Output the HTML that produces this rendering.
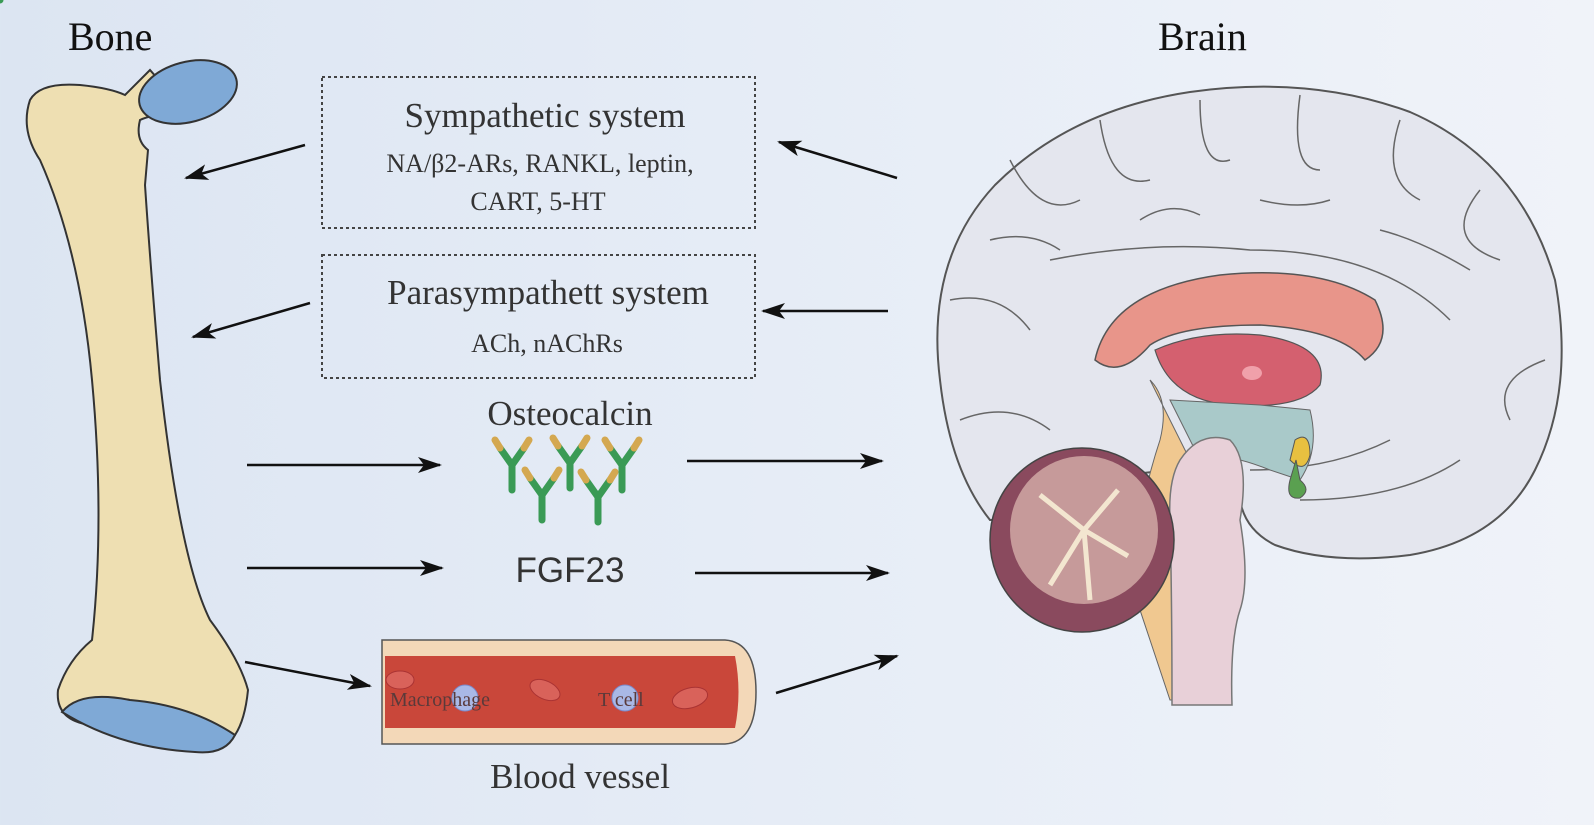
<!DOCTYPE html>
<html><head><meta charset="utf-8"><style>
html,body{margin:0;padding:0;}
body{width:1594px;height:820px;overflow:hidden;background:linear-gradient(90deg,#dce5f2,#e8eef7 60%,#f0f3f9);}
svg text{font-family:"Liberation Serif",serif;fill:#333;}
</style></head><body>
<svg width="1594" height="820" viewBox="0 0 1594 820" xmlns="http://www.w3.org/2000/svg">
<defs>
<marker id="ah" markerWidth="24" markerHeight="16" refX="22" refY="8" orient="auto" markerUnits="userSpaceOnUse" viewBox="0 0 24 16">
<path d="M0,0 L24,8 L0,16 L6,8 Z" fill="#111"/></marker>
</defs>
<text x="68" y="50" font-size="40" style="fill:#111">Bone</text>
<text x="1158" y="50" font-size="40" style="fill:#111">Brain</text>

<!-- Bone -->
<path d="M30,100 Q40,82 80,85 Q110,88 125,95 Q140,80 150,70 L185,110 Q150,115 140,120 Q135,140 148,150 L145,185 Q150,260 160,380 Q180,560 210,620 Q240,660 248,690 Q245,720 235,735 L200,740 Q150,740 90,725 Q55,720 58,690 Q68,660 92,640 Q105,520 92,380 Q80,250 40,160 Q20,130 30,100 Z" fill="#eedfb2" stroke="#333" stroke-width="2"/>
<ellipse cx="188" cy="92" rx="50" ry="30" transform="rotate(-15 188 92)" fill="#7fa9d6" stroke="#333" stroke-width="2"/>
<path d="M62,712 Q80,690 130,700 Q190,705 235,735 Q225,755 195,752 Q120,748 62,712 Z" fill="#7fa9d6" stroke="#333" stroke-width="2"/>

<!-- boxes -->
<rect x="322" y="77" width="433" height="151" fill="none" stroke="#444" stroke-width="2" stroke-dasharray="3,3"/>
<text x="545" y="127" font-size="35" text-anchor="middle">Sympathetic system</text>
<text x="540" y="172" font-size="26" text-anchor="middle">NA/β2-ARs, RANKL, leptin,</text>
<text x="538" y="210" font-size="26" text-anchor="middle">CART, 5-HT</text>
<rect x="322" y="255" width="433" height="123" fill="none" stroke="#444" stroke-width="2" stroke-dasharray="3,3"/>
<text x="548" y="304" font-size="35" text-anchor="middle">Parasympathett system</text>
<text x="547" y="352" font-size="26" text-anchor="middle">ACh, nAChRs</text>
<text x="570" y="425" font-size="35" text-anchor="middle">Osteocalcin</text>
<text x="570" y="582" font-size="35" text-anchor="middle" style="font-family:'Liberation Sans',sans-serif">FGF23</text>
<text x="580" y="788" font-size="35" text-anchor="middle">Blood vessel</text>

<!-- antibodies -->
<g stroke-linecap="round">
<g id="ab"><path d="M0,0 L0,-25 M0,-25 L-12,-42 M0,-25 L12,-42" stroke="#3a9a55" stroke-width="7" fill="none"/><path d="M-12,-42 L-17,-50 M12,-42 L17,-50" stroke="#d4a850" stroke-width="7"/></g>
<use href="#ab" x="512" y="490"/><use href="#ab" x="570" y="488"/><use href="#ab" x="622" y="490"/>
<use href="#ab" x="542" y="520"/><use href="#ab" x="598" y="522"/>
</g>

<!-- blood vessel -->
<path d="M382,640 L725,640 Q756,642 756,692 Q756,742 725,744 L382,744 Z" fill="#f3d8b8" stroke="#555" stroke-width="1.5"/>
<path d="M385,656 L735,656 Q742,692 735,728 L385,728 Z" fill="#c9473a"/>
<ellipse cx="400" cy="680" rx="14" ry="9" fill="#d9625a" stroke="#a33" />
<ellipse cx="545" cy="690" rx="16" ry="9" fill="#d9625a" stroke="#a33" transform="rotate(25 545 690)"/>
<ellipse cx="690" cy="698" rx="18" ry="10" fill="#d9625a" stroke="#a33" transform="rotate(-15 690 698)"/>
<circle cx="465" cy="698" r="13" fill="#a9b8e6" stroke="#7a8acc"/>
<circle cx="625" cy="698" r="13" fill="#a9b8e6" stroke="#7a8acc"/>
<text x="390" y="706" font-size="20" style="fill:#5a3a3a">Macrophage</text>
<text x="598" y="706" font-size="20" style="fill:#5a3a3a">T cell</text>

<!-- brain -->
<path d="M940,380 Q925,260 995,185 Q1070,110 1190,92 Q1310,75 1410,112 Q1520,160 1555,280 Q1575,390 1535,470 Q1500,540 1410,555 Q1330,565 1275,545 Q1245,530 1240,500 Q1230,470 1200,470 Q1120,470 1070,490 Q1010,520 990,520 Q950,470 940,380 Z" fill="#e4e6ee" stroke="#555" stroke-width="2"/>
<g fill="none" stroke="#666" stroke-width="1.5">
<path d="M1010,160 Q1040,220 1080,200"/><path d="M1100,120 Q1110,190 1150,180"/><path d="M1200,100 Q1200,170 1230,160"/><path d="M1300,95 Q1290,170 1320,170"/><path d="M1400,120 Q1380,180 1420,200"/><path d="M1480,190 Q1440,240 1500,260"/><path d="M950,300 Q1000,290 1030,330"/><path d="M1545,360 Q1490,380 1510,420"/><path d="M960,420 Q1010,400 1050,430"/><path d="M1050,260 Q1150,240 1250,250 Q1380,250 1450,320"/><path d="M1300,500 Q1400,500 1460,460"/><path d="M1250,470 Q1330,470 1390,440"/>
<path d="M990,240 Q1030,230 1060,250"/><path d="M1140,220 Q1170,200 1200,215"/><path d="M1260,200 Q1300,210 1330,200"/><path d="M1380,230 Q1420,240 1470,270"/>
</g>
<path d="M1095,360 Q1110,290 1220,275 Q1320,265 1375,300 Q1395,340 1365,360 Q1340,330 1260,325 Q1180,325 1150,345 Q1120,380 1095,360 Z" fill="#e8958a" stroke="#555" stroke-width="1.5"/>
<path d="M1155,350 Q1200,330 1260,335 Q1330,345 1320,385 Q1300,410 1230,405 Q1170,400 1155,350 Z" fill="#d4606f" stroke="#555" stroke-width="1.2"/>
<ellipse cx="1252" cy="373" rx="10" ry="7" fill="#f0a0aa"/>
<path d="M1170,400 L1260,405 L1310,410 Q1320,450 1300,480 L1270,470 Q1220,450 1200,460 Z" fill="#a9c9c9" stroke="#666"/>
<path d="M1295,440 Q1310,430 1310,455 Q1305,475 1290,460 Z" fill="#e8c040" stroke="#555"/>
<path d="M1296,460 L1300,480 Q1312,490 1300,498 Q1285,500 1290,480 Z" fill="#5aa050" stroke="#555"/>
<path d="M1150,380 Q1170,400 1160,440 Q1140,500 1130,580 Q1150,640 1170,700 L1190,700 L1190,460 Z" fill="#f0c890" stroke="#666"/>
<path d="M1180,460 Q1200,430 1230,440 Q1250,460 1240,520 Q1250,580 1240,610 Q1230,640 1232,705 L1172,705 Q1172,600 1170,520 Q1168,480 1180,460 Z" fill="#e8d0d8" stroke="#777" stroke-width="1.5"/>
<circle cx="1082" cy="540" r="92" fill="#8a4a5e" stroke="#444" stroke-width="1.5"/>
<circle cx="1084" cy="530" r="74" fill="#c69a9a"/>
<path d="M1084,530 L1040,495 M1084,530 L1118,490 M1084,530 L1128,556 M1084,530 L1050,585 M1084,530 L1090,600" stroke="#f3e6d0" stroke-width="5" fill="none"/>
<!-- arrows -->
<g stroke="#111" stroke-width="2.5" marker-end="url(#ah)" fill="none">
<line x1="305" y1="145" x2="186" y2="178"/>
<line x1="310" y1="303" x2="193" y2="337"/>
<line x1="247" y1="465" x2="440" y2="465"/>
<line x1="247" y1="568" x2="442" y2="568"/>
<line x1="245" y1="662" x2="370" y2="686"/>
<line x1="897" y1="178" x2="779" y2="142"/>
<line x1="888" y1="311" x2="763" y2="311"/>
<line x1="687" y1="461" x2="882" y2="461"/>
<line x1="695" y1="573" x2="888" y2="573"/>
<line x1="776" y1="693" x2="897" y2="656"/>
</g>
</svg>
</body></html>
